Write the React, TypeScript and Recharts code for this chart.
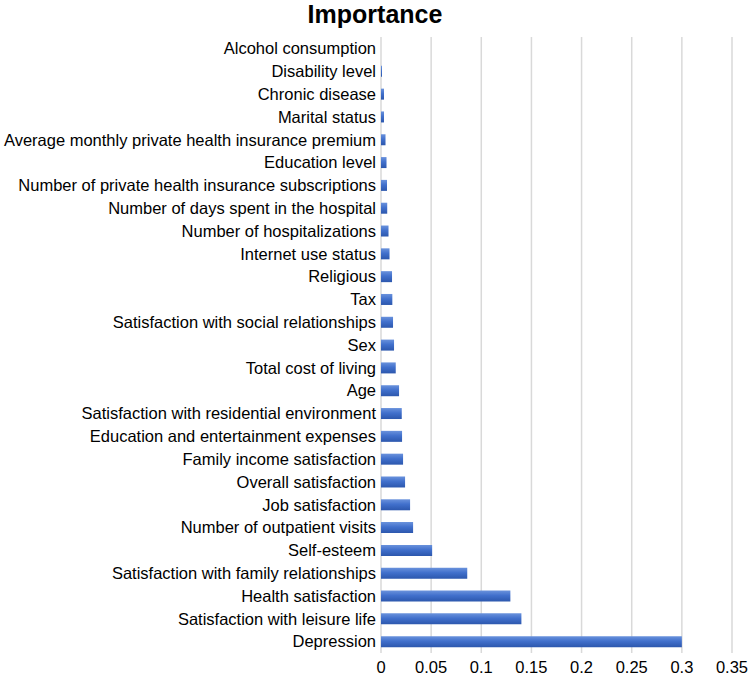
import React from "react";
import { BarChart, Bar, XAxis, YAxis, CartesianGrid } from "recharts";

const categories = [
  "Alcohol consumption",
  "Disability level",
  "Chronic disease",
  "Marital status",
  "Average monthly private health insurance premium",
  "Education level",
  "Number of private health insurance subscriptions",
  "Number of days spent in the hospital",
  "Number of hospitalizations",
  "Internet use status",
  "Religious",
  "Tax",
  "Satisfaction with social relationships",
  "Sex",
  "Total cost of living",
  "Age",
  "Satisfaction with residential environment",
  "Education and entertainment expenses",
  "Family income satisfaction",
  "Overall satisfaction",
  "Job satisfaction",
  "Number of outpatient visits",
  "Self-esteem",
  "Satisfaction with family relationships",
  "Health satisfaction",
  "Satisfaction with leisure life",
  "Depression",
];

const importance = [
  0.0, 0.001, 0.003, 0.003, 0.0045, 0.0055, 0.006, 0.0062, 0.0075, 0.0085,
  0.011, 0.0113, 0.012, 0.013, 0.0147, 0.018, 0.0207, 0.021, 0.022, 0.024,
  0.029, 0.032, 0.051, 0.086, 0.129, 0.14, 0.3,
];

const xTicks = [0, 0.05, 0.1, 0.15, 0.2, 0.25, 0.3, 0.35];

const data = categories.map((name, i) => ({ name, value: importance[i] }));

const FONT = '"Liberation Sans", Arial, sans-serif';

export default function App() {
  return (
    <div
      style={{
        position: "absolute",
        left: 0,
        top: 0,
        width: 750,
        height: 676,
        background: "#fff",
        fontFamily: FONT,
      }}
    >
      <div
        style={{
          position: "absolute",
          left: 0,
          top: 1,
          width: 750,
          textAlign: "center",
          fontSize: 25,
          lineHeight: "26px",
          fontWeight: "bold",
          color: "#000",
        }}
      >
        Importance
      </div>
      <BarChart
        width={750}
        height={676}
        data={data}
        layout="vertical"
        margin={{ top: 37, right: 18, bottom: 0, left: 0 }}
        barSize={11}
      >
        <defs>
          <linearGradient id="barGrad" x1="0" y1="0" x2="0" y2="1">
            <stop offset="0%" stopColor="#6a92dc" />
            <stop offset="45%" stopColor="#4170cc" />
            <stop offset="100%" stopColor="#2c57ad" />
          </linearGradient>
        </defs>
        <CartesianGrid
          horizontal={false}
          vertical={true}
          stroke="#d9d9d9"
          strokeWidth={1.5}
        />
        <XAxis
          type="number"
          domain={[0, 0.35]}
          ticks={xTicks}
          height={23}
          axisLine={false}
          tickLine={false}
          tickSize={6}
          tickMargin={2}
          interval={0}
          tick={{ fill: "#000", fontSize: 16.5, fontFamily: FONT }}
        />
        <YAxis
          type="category"
          dataKey="name"
          width={381}
          axisLine={false}
          tickLine={false}
          tickSize={5}
          tickMargin={0}
          interval={0}
          tick={{ fill: "#000", fontSize: 16.5, fontFamily: FONT }}
        />
        <Bar dataKey="value" fill="url(#barGrad)" isAnimationActive={false} />
      </BarChart>
    </div>
  );
}
